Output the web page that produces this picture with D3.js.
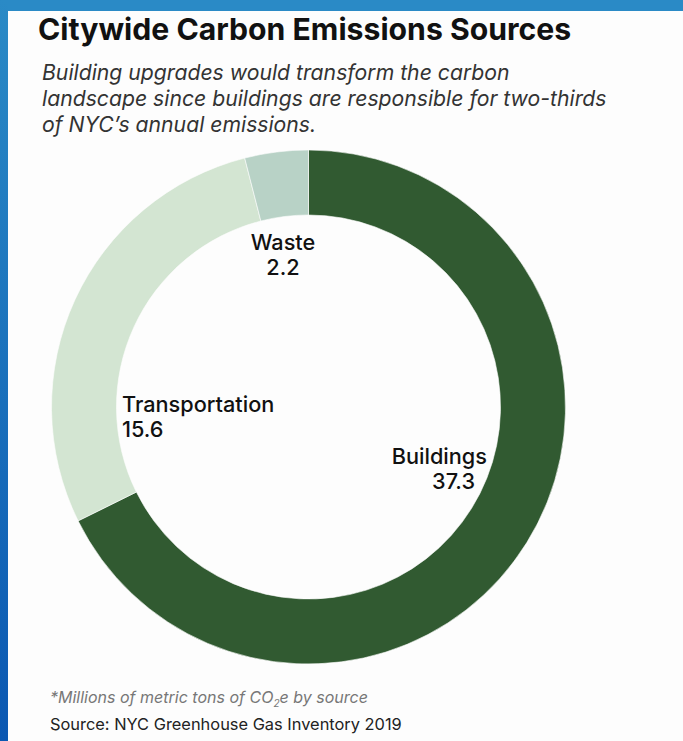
<!DOCTYPE html>
<html>
<head>
<meta charset="utf-8">
<script src="https://cdn.jsdelivr.net/npm/d3@7"></script>
<style>
  html, body { margin: 0; padding: 0; background: #fdfdfd; }
  svg { display: block; }
</style>
</head>
<body>
<script>
const WIDTH = 683;
const HEIGHT = 741;

// emissions by source, millions of metric tons CO2e
const sources = ["Buildings", "Transportation", "Waste"];
const values = [37.3, 15.6, 2.2];
const colors = ["#315a31", "#d3e5d2", "#b8d2c6"];

const subtitleLines = [
  "Building upgrades would transform the carbon",
  "landscape since buildings are responsible for two-thirds",
  "of NYC\u2019s annual emissions."
];

const data = sources.map((s, i) => ({ name: s, value: values[i], color: colors[i] }));

const svg = d3.select("body").append("svg")
  .attr("width", WIDTH)
  .attr("height", HEIGHT);

// blue slide frame
const grad = svg.append("defs").append("linearGradient")
  .attr("id", "frame").attr("x1", 0).attr("y1", 0).attr("x2", 0).attr("y2", 1);
grad.append("stop").attr("offset", "0%").attr("stop-color", "#2a8ac6");
grad.append("stop").attr("offset", "100%").attr("stop-color", "#0b58b2");

svg.append("rect").attr("width", WIDTH).attr("height", HEIGHT).attr("fill", "#fdfdfd");
svg.append("rect").attr("width", WIDTH).attr("height", 11).attr("fill", "#2a8ac6");
svg.append("rect").attr("width", 8).attr("height", HEIGHT).attr("fill", "url(#frame)");

// title + subtitle
svg.append("text")
  .attr("x", 38).attr("y", 40)
  .attr("font-family", "Inter, sans-serif")
  .attr("font-weight", 700)
  .attr("font-size", 30.2)
  .attr("fill", "#111")
  .text("Citywide Carbon Emissions Sources");

svg.append("g").selectAll("text")
  .data(subtitleLines)
  .join("text")
  .attr("x", 42)
  .attr("y", (d, i) => 80 + i * 26)
  .attr("font-family", "Inter, sans-serif")
  .attr("font-style", "italic")
  .attr("font-size", 21.2)
  .attr("fill", "#333")
  .text(d => d);

// donut
const cx = 308.5, cy = 407;
const outerR = 257, innerR = 192;

const pie = d3.pie().value(d => d.value).sort(null);
const arc = d3.arc().innerRadius(innerR).outerRadius(outerR);

const g = svg.append("g").attr("transform", `translate(${cx},${cy})`);

g.selectAll("path")
  .data(pie(data))
  .join("path")
  .attr("d", arc)
  .attr("fill", d => d.data.color)
  .attr("stroke", "#fdfdfd")
  .attr("stroke-width", 0.6);

// labels, placed by hand inside the ring
const labelPos = {
  "Buildings": { x: 487, y: 464, anchor: "end", valueX: 475 },
  "Transportation": { x: 122, y: 412, anchor: "start", valueX: 122 },
  "Waste": { x: 283, y: 250, anchor: "middle", valueX: 283 }
};

const labels = svg.append("g")
  .attr("font-family", "Inter, sans-serif")
  .attr("font-size", 21.7)
  .attr("font-weight", 500)
  .attr("fill", "#111");

data.forEach(d => {
  const p = labelPos[d.name];
  labels.append("text")
    .attr("x", p.x).attr("y", p.y)
    .attr("text-anchor", p.anchor)
    .text(d.name);
  labels.append("text")
    .attr("x", p.valueX).attr("y", p.y + 25)
    .attr("text-anchor", p.anchor)
    .text(d.value.toFixed(1));
});

// footnotes
const foot = svg.append("text")
  .attr("x", 50).attr("y", 703)
  .attr("font-family", "Inter, sans-serif")
  .attr("font-style", "italic")
  .attr("font-size", 16)
  .attr("fill", "#777");
foot.append("tspan").text("*Millions of metric tons of CO");
foot.append("tspan").attr("font-size", 10).attr("dy", 4).text("2");
foot.append("tspan").attr("dy", -4).text("e by source");

svg.append("text")
  .attr("x", 50).attr("y", 730)
  .attr("font-family", "Inter, sans-serif")
  .attr("font-size", 16.4)
  .attr("fill", "#222")
  .text("Source: NYC Greenhouse Gas Inventory 2019");
</script>
</body>
</html>
